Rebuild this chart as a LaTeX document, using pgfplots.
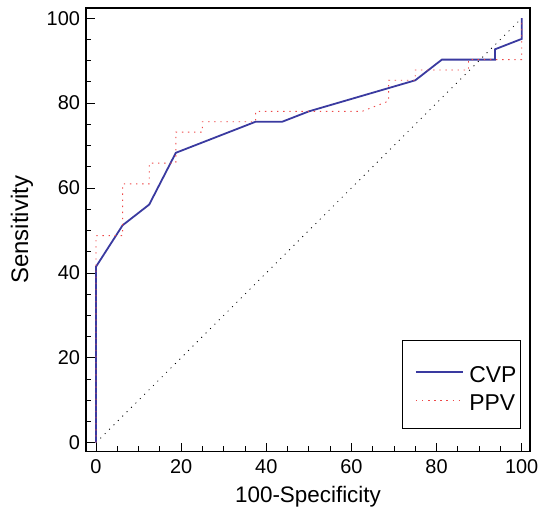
\documentclass[border=0pt]{standalone}
\usepackage{pgfplots}
\pgfplotsset{compat=1.18}
\usepackage{fontspec}
\setmainfont{Liberation Sans}
\definecolor{cvpblue}{RGB}{58,58,160}
\definecolor{ppvred}{RGB}{238,72,72}

\begin{document}
\begin{tikzpicture}
\path[use as bounding box] (-86bp,-60.5bp) rectangle (453bp,451.5bp);
\begin{axis}[
    at={(0,0)}, anchor=south west,
    scale only axis,
    width=444bp, height=443.5bp,
    xmin=-2.35, xmax=101.95,
    ymin=-2.07, ymax=102.4,
    xtick={0,20,...,100}, ytick={0,20,...,100},
    minor tick num=3,
    tick pos=left,
    tick align=inside,
    major tick length=9bp, minor tick length=5.5bp,
    every tick/.style={black, line width=0.8bp},
    axis line style={line width=1.1bp},
    /pgf/number format/assume math mode=true,
    tick label style={font=\fontsize{20}{24}\selectfont},
    xticklabel style={yshift=-5bp},
    yticklabel style={xshift=-2.5bp},
    xlabel={100-Specificity},
    ylabel={Sensitivity},
    xlabel style={font=\fontsize{22.5}{26}\selectfont,
        at={(axis description cs:0.5,-0.1161)}, anchor=base},
    ylabel style={font=\fontsize{24}{28}\selectfont,
        at={(axis description cs:-0.1306,0.5)}, anchor=base},
    legend style={draw=black, line width=0.9bp,
        at={(0.979,0.0514)}, anchor=south east,
        font=\fontsize{23}{27}\selectfont,
        inner xsep=1.7bp, inner ysep=13.85bp, row sep=6.75bp, column sep=4bp,
        nodes={inner sep=2bp, text depth=0.15em},
        cells={anchor=base west}},
    legend image code/.code={\path (0bp,0bp);
        \draw[#1] (10.7bp,10.5bp) -- (57.3bp,10.5bp);},
]
\addplot[black, line width=0.8bp, dash pattern=on 1bp off 5.2bp, forget plot]
    coordinates {(0,0) (100,100)};
\addplot[cvpblue, line width=1.8bp] coordinates {
    (0,0) (0,41.46) (6.25,51.22) (12.5,56.10) (18.75,68.29)
    (37.5,75.61) (43.75,75.61) (50,78.05) (75,85.37) (81.25,90.24)
    (93.75,90.24) (93.75,92.68) (100,95.12) (100,100)
};
\addplot[ppvred, line width=0.9bp, dash pattern=on 1.4bp off 4.7bp] coordinates {
    (0,0) (0,48.78) (6.25,48.78) (6.25,60.98) (12.5,60.98) (12.5,65.85)
    (18.75,65.85) (18.75,73.17) (25,73.17) (25,75.61) (37.5,75.61)
    (37.5,78.05) (62.5,78.05) (68.75,80.49) (68.75,85.37) (75,85.37)
    (75,87.80) (87.5,87.80) (87.5,90.24) (100,90.24) (100,100)
};
\legend{\rule{0pt}{26.45bp}CVP,PPV}
\end{axis}
\end{tikzpicture}
\end{document}
